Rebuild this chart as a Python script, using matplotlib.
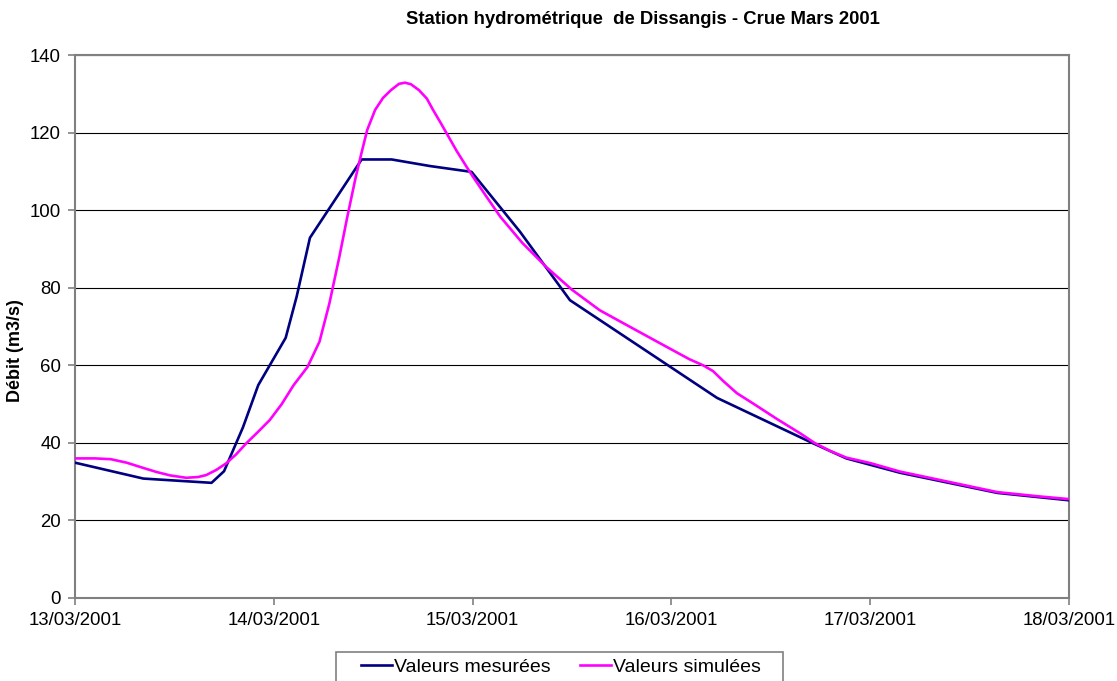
import matplotlib
matplotlib.use("Agg")
import matplotlib.pyplot as plt
from matplotlib.patches import Rectangle

plt.rcParams['font.family'] = ['Liberation Sans', 'DejaVu Sans']

# Time in days since 13/03/2001 00:00
mesure_jours = [0.00, 0.344, 0.687, 0.75, 0.845, 0.922, 1.06, 1.115, 1.182,
                1.442, 1.593, 1.786, 1.995, 2.238, 2.49, 3.23, 3.70, 3.88,
                4.15, 4.64, 5.00]
mesure_debit = [34.9, 30.8, 29.7, 32.7, 44.0, 54.9, 67.1, 77.7, 92.9,
                113.1, 113.1, 111.4, 109.9, 94.5, 76.8, 51.6, 40.2, 36.0,
                32.3, 27.1, 25.2]

simul_jours = [0.00, 0.10, 0.18, 0.26, 0.34, 0.41, 0.48, 0.56, 0.62, 0.66,
               0.71, 0.76, 0.81, 0.86, 0.92, 0.98, 1.04, 1.10, 1.17, 1.23,
               1.28, 1.33, 1.37, 1.41, 1.44, 1.47, 1.51, 1.55, 1.59, 1.63,
               1.66, 1.69, 1.73, 1.77, 1.80, 1.84, 1.87, 1.92, 1.97, 2.00,
               2.07, 2.14, 2.25, 2.37, 2.50, 2.64, 2.80, 2.95, 3.09, 3.16,
               3.21, 3.26, 3.33, 3.41, 3.53, 3.65, 3.72, 3.80, 3.88, 4.00,
               4.15, 4.40, 4.64, 4.85, 5.00]
simul_debit = [36.0, 36.0, 35.8, 34.9, 33.6, 32.5, 31.6, 31.0, 31.2, 31.7,
               33.0, 34.7, 37.0, 39.8, 42.8, 45.9, 50.0, 54.9, 59.6, 66.1,
               76.0, 88.0, 98.3, 108.0, 114.5, 120.7, 125.9, 129.0, 131.0, 132.6,
               132.9, 132.5, 131.0, 128.8, 126.0, 122.5, 119.8, 115.3, 111.2, 108.8,
               103.5, 98.3, 91.6, 85.4, 79.5, 74.2, 69.7, 65.5, 61.6, 60.0,
               58.5, 56.0, 52.8, 50.2, 46.2, 42.4, 40.0, 37.9, 36.2, 34.8,
               32.6, 29.9, 27.3, 26.2, 25.5]

dates_ticks = ["13/03/2001", "14/03/2001", "15/03/2001", "16/03/2001",
               "17/03/2001", "18/03/2001"]
debit_ticks = [0, 20, 40, 60, 80, 100, 120, 140]

fig = plt.figure(figsize=(11.17, 6.81), dpi=100)
ax = fig.add_axes([0.0671, 0.1219, 0.8899, 0.7971])

ax.plot(mesure_jours, mesure_debit, color='#000080', lw=1.9,
        label='Valeurs mesurées', solid_joinstyle='round', zorder=3)
ax.plot(simul_jours, simul_debit, color='#FF00FF', lw=1.9,
        label='Valeurs simulées', solid_joinstyle='round', zorder=4)

ax.set_xlim(0, 5)
ax.set_ylim(0, 140)
ax.set_xticks(range(len(dates_ticks)))
ax.set_xticklabels(dates_ticks)
ax.set_yticks(debit_ticks)
ax.tick_params(axis='both', labelsize=13.4, colors='#808080',
               labelcolor='black', direction='out', length=5, width=1.2)
ax.tick_params(axis='x', pad=5)
ax.tick_params(axis='y', pad=5)

ax.yaxis.grid(True, color='#000000', lw=0.8)
ax.set_axisbelow(True)
for s in ax.spines.values():
    s.set_color('#808080')
    s.set_linewidth(1.5)

fig.text(16 / 1117, 1 - 351 / 681, 'Débit (m3/s)', rotation=90,
         ha='center', va='center', fontsize=13, fontweight='bold')
fig.text(642.5 / 1117, 1 - 20 / 681,
         'Station hydrométrique  de Dissangis - Crue Mars 2001',
         ha='center', va='center', fontsize=13.3, fontweight='bold')

# Legend box below the plot area
fig.patches.append(Rectangle((336 / 1117, -0.05), (783 - 336) / 1117,
                             0.05 + 1 - 652 / 681, transform=fig.transFigure,
                             facecolor='none', edgecolor='#808080', lw=1.2))
leg = ax.legend(loc='upper center', bbox_to_anchor=(561 / 1117, 1 - 657 / 681),
                bbox_transform=fig.transFigure, ncol=2, frameon=False,
                fontsize=14, handlelength=1.6, handletextpad=0.1,
                columnspacing=1.5, borderpad=0.05, borderaxespad=0)

fig.savefig('out.png', dpi=100)
